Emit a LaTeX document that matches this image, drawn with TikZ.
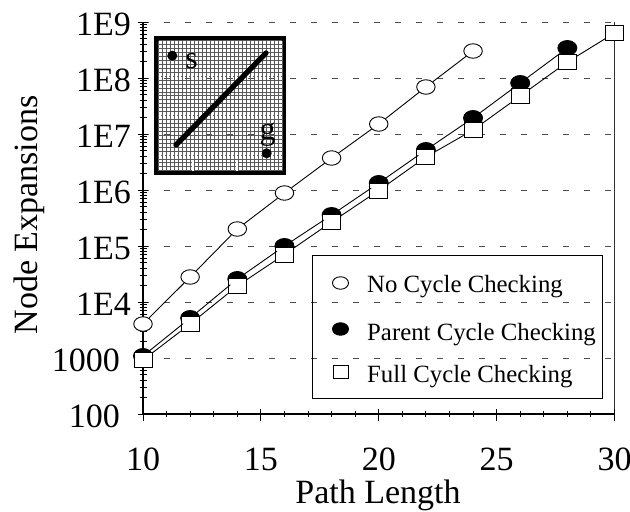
\documentclass[tikz,border=0pt]{standalone}
\usepackage{fontspec}
\setmainfont{Liberation Serif}
\usetikzlibrary{shapes.geometric}
\begin{document}
\begin{tikzpicture}[x=1pt,y=-1pt,
  opendot/.style={ellipse,draw,fill=white,line width=0.9pt,minimum width=18.5pt,minimum height=14.5pt,inner sep=0pt},
  filldot/.style={ellipse,draw,fill=black,line width=0.9pt,minimum width=19pt,minimum height=15pt,inner sep=0pt},
  sqmark/.style={rectangle,draw,fill=white,line width=0.9pt,minimum width=18pt,minimum height=15pt,inner sep=0pt},
  series/.style={line width=0.9pt},
  gridline/.style={dash pattern=on 6pt off 15pt,line width=1pt,black!70},
  axisline/.style={line width=1.2pt},
  tickline/.style={line width=1pt},
  ticklab/.style={font=\fontsize{34}{34}\selectfont,inner sep=0pt},
  leglab/.style={font=\fontsize{24.8}{24.8}\selectfont,anchor=base west,inner sep=0pt},
  insetlab/.style={font=\fontsize{32}{32}\selectfont,inner sep=0pt},
  bigdot/.style={circle,fill=black,inner sep=0pt,minimum size=10pt},
  finegrid/.style={line width=0.4pt,black!65},
  whitedash/.style={white,line width=1.3pt,dash pattern=on 2.5pt off 1.5pt}
]
\useasboundingbox (0,0) rectangle (630,512);

% grid lines
\foreach \d in {1,...,7} {
  \draw[gridline] (143,{414-56*\d}) -- (614.5,{414-56*\d});
}
% frame
\draw[line width=1pt,black!80] (614.5,22) -- (614.5,414);
\draw[axisline] (143,22) -- (143,414) -- (614.5,414);

% y ticks
\foreach \d in {0,...,7} {
  \draw[tickline] (138,{414-56*\d}) -- (148,{414-56*\d});
}
\foreach \d in {0,...,6} {
  \foreach \k in {2,...,9} {
    \pgfmathsetmacro{\yy}{414-56*(\d+ln(\k)/ln(10))}
    \draw[tickline] (139.5,\yy) -- (146.5,\yy);
  }
}
% x ticks
\foreach \i in {11,12,13,14,16,17,18,19,21,22,23,24,26,27,28,29} {
  \draw[tickline] ({143+23.575*(\i-10)},411) -- ({143+23.575*(\i-10)},417);
}
\foreach \i in {10,15,20,25,30} {
  \draw[tickline] ({143+23.575*(\i-10)},409) -- ({143+23.575*(\i-10)},421);
}

% y tick labels
\node[ticklab,anchor=base east] (y9) at (131,35) {1E9};
\node[ticklab,anchor=base east] (y8) at (131,91.5) {1E8};
\node[ticklab,anchor=base east] (y7) at (131,147.5) {1E7};
\node[ticklab,anchor=base east] (y6) at (131,203.5) {1E6};
\node[ticklab,anchor=base east] (y5) at (131,259.5) {1E5};
\node[ticklab,anchor=base east] (y4) at (131,315.5) {1E4};
\node[ticklab,anchor=base east] (y3) at (120,371.5) {1000};
\node[ticklab,anchor=base east] (y2) at (120,427.5) {100};
% x tick labels
\node[ticklab,anchor=base] (x10) at (143,470) {10};
\node[ticklab,anchor=base] (x15) at (260.9,470) {15};
\node[ticklab,anchor=base] (x20) at (378.75,470) {20};
\node[ticklab,anchor=base] (x25) at (496.6,470) {25};
\node[ticklab,anchor=base] (x30) at (614.5,470) {30};
% axis titles
\node[ticklab,anchor=base] (xtitle) at (378,503.5) {Path Length};
\node[ticklab,rotate=90] (ytitle) at (29,215) {Node Expansions};

% inset
\draw[line width=4.5pt] (156.25,38.25) rectangle (283.75,172.75);
\foreach \i in {0,...,31} {
  \draw[finegrid] ({158.5+\i*3.976},40.5) -- ({158.5+\i*3.976},170.5);
}
\foreach \j in {0,...,33} {
  \draw[finegrid] (158.5,{40.5+\j*3.94}) -- (281.75,{40.5+\j*3.94});
}
\foreach \yy in {76,116,156} {
  \draw[whitedash] (158.5,\yy) -- (281.75,\yy);
}
\foreach \xx in {193,237} {
  \draw[whitedash] (\xx,40.5) -- (\xx,170.5);
}
\coordinate (d1) at (176,145);
\coordinate (d2) at (266,53);
\draw[line width=5.3pt,line cap=round] (d1) -- (d2);
\node[bigdot] (sdot) at (172.3,55.7) {};
\node[bigdot] (gdot) at (266.7,153.3) {};
\node[insetlab] (slab) at (191.5,61) {s};
\node[insetlab] (glab) at (267.5,134.5) {g};

% data: no cycle checking
\foreach \n/\xx/\yy in {10/143/324,12/190.15/277,14/237.3/229,16/284.45/193,18/331.6/158,20/378.75/124,22/425.9/87,24/473.05/51} {
  \node[opendot] (o\n) at (\xx,\yy) {};
}
% parent cycle checking
\foreach \n/\xx/\yy in {10/143/356,12/190.15/318,14/237.3/279,16/284.45/246,18/331.6/215,20/378.75/183,22/425.9/150,24/473.05/118,26/520.2/83,28/567.35/48} {
  \node[filldot] (p\n) at (\xx,\yy) {};
}
% full cycle checking
\foreach \n/\xx/\yy in {10/143/360,12/190.15/324,14/237.3/286,16/284.45/254.5,18/331.6/222,20/378.75/190.5,22/425.9/157,24/473.05/130,26/520.2/96,28/567.35/62,30/614.5/33} {
  \node[sqmark] (f\n) at (\xx,\yy) {};
}
\foreach \a/\b in {10/12,12/14,14/16,16/18,18/20,20/22,22/24} {
  \draw[series] (o\a) -- (o\b);
}
\foreach \a/\b in {10/12,12/14,14/16,16/18,18/20,20/22,22/24,24/26,26/28} {
  \draw[series] (p\a) -- (p\b);
}
\foreach \a/\b in {10/12,12/14,14/16,16/18,18/20,20/22,22/24,24/26,26/28,28/30} {
  \draw[series] (f\a) -- (f\b);
}

% legend
\draw[line width=1pt] (312,255) rectangle (602,398);
\node[opendot,minimum width=16pt,minimum height=12.5pt] (lo) at (340.5,283) {};
\node[filldot,minimum width=16pt,minimum height=12.5pt] (lp) at (340.5,329) {};
\node[sqmark,minimum width=15pt,minimum height=13pt] (lf) at (340.5,372) {};
\node[leglab] (lot) at (367,292) {No Cycle Checking};
\node[leglab] (lpt) at (367,340) {Parent Cycle Checking};
\node[leglab] (lft) at (367,382) {Full Cycle Checking};
\end{tikzpicture}
\end{document}
